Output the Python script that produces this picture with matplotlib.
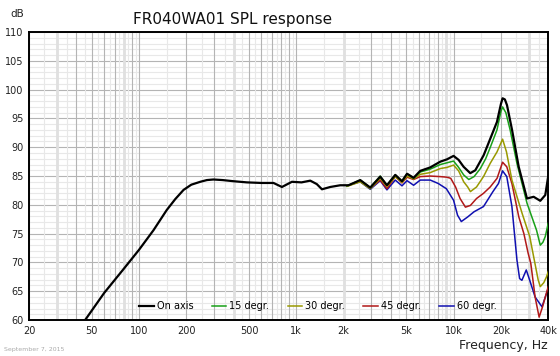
import matplotlib
matplotlib.use('Agg')
import matplotlib.pyplot as plt
import numpy as np

# --- data (frequency in Hz, level in dB)
f_axis = [43, 45.4, 60, 80, 100, 123.6, 150, 170, 192, 215, 245, 270, 297, 340, 399, 485,
          600, 716, 810, 938, 1080, 1227, 1350, 1456, 1644, 1903, 2148, 2550, 2953, 3418,
          3770, 4260, 4700, 5060, 5570, 6140, 7110, 8240, 9080, 10000, 10770, 11590, 12770,
          13750, 15530, 17130, 18880, 20000, 20500, 21200, 21870, 23550, 25960, 29300,
          32300, 35600, 38300, 40000]
db_axis = [59.3, 60.0, 64.7, 68.9, 72.2, 75.6, 79.1, 81.0, 82.6, 83.5, 84.0, 84.3, 84.4, 84.3,
           84.1, 83.9, 83.8, 83.8, 83.1, 84.0, 83.9, 84.2, 83.6, 82.7, 83.1, 83.4, 83.4, 84.3,
           83.0, 84.9, 83.4, 85.2, 84.1, 85.4, 84.7, 85.9, 86.5, 87.5, 87.9, 88.5, 87.8, 86.6,
           85.5, 86.0, 88.6, 91.5, 94.4, 97.5, 98.5, 98.3, 97.3, 93.0, 86.6, 81.1, 81.4, 80.7,
           81.7, 85.0]

f_15 = [2100, 2550, 2953, 3418, 3770, 4260, 4700, 5060, 5570, 6140, 7110, 8240, 9080, 10000,
        10770, 11590, 12500, 13500, 14800, 16000, 17130, 18880, 20000, 20500, 21500, 22900,
        25300, 29300, 33700, 35600, 37000, 38300, 40000]
db_15 = [83.3, 84.3, 83.0, 85.0, 83.4, 85.2, 84.1, 85.4, 84.6, 85.7, 86.2, 87.0, 87.3, 87.6,
         86.5, 85.2, 84.4, 84.9, 86.3, 88.0, 90.0, 93.0, 96.2, 97.0, 96.0, 93.0, 87.2, 80.3,
         75.6, 73.0, 73.5, 74.5, 76.8]

f_30 = [2100, 2550, 2953, 3418, 3770, 4260, 4700, 5060, 5570, 6140, 7110, 8240, 9080, 10000,
        10770, 11600, 12300, 12800, 14000, 15500, 17100, 18900, 20500, 21700, 23500, 27300,
        30500, 32300, 34500, 35600, 37500, 39000, 40000]
db_30 = [83.2, 84.0, 82.8, 84.6, 83.2, 84.9, 83.9, 85.0, 84.5, 85.3, 85.6, 86.3, 86.5, 86.9,
         85.9, 84.0, 83.1, 82.3, 83.1, 84.9, 87.2, 89.2, 91.4, 89.2, 84.3, 78.5, 74.5, 71.0,
         67.0, 65.8, 66.5, 67.5, 68.4]

f_45 = [2100, 2550, 2953, 3418, 3770, 4260, 4700, 5060, 5570, 6140, 7110, 8240, 9080, 9600,
        10300, 11000, 11900, 12800, 14000, 15500, 17100, 18900, 20500, 21800, 23500, 26000,
        28000, 29800, 31000, 33000, 35000, 36800, 40000]
db_45 = [83.3, 84.1, 82.9, 84.3, 82.8, 84.9, 83.8, 84.8, 84.4, 84.9, 85.0, 84.9, 84.8, 84.6,
         83.1, 81.1, 79.6, 79.9, 81.1, 82.0, 83.1, 84.6, 87.4, 86.6, 83.7, 77.9, 75.0, 71.6,
         69.8, 64.0, 60.5, 62.3, 65.8]

f_60 = [2100, 2550, 2953, 3418, 3770, 4260, 4700, 5060, 5570, 6140, 7110, 8000, 9000, 10000,
        10600, 11200, 12300, 13500, 15500, 17800, 19300, 20500, 21800, 23500, 25300, 26300,
        27200, 29000, 30500, 33000, 36500, 40000]
db_60 = [83.3, 84.0, 82.7, 84.2, 82.6, 84.3, 83.3, 84.2, 83.4, 84.3, 84.3, 83.7, 82.8, 80.8,
         78.2, 77.1, 77.9, 78.8, 79.7, 82.3, 83.7, 85.9, 84.9, 79.7, 70.4, 67.2, 66.9, 68.7,
         66.9, 64.0, 62.3, 65.5]

xtick_vals = [20, 50, 100, 200, 500, 1000, 2000, 5000, 10000, 20000, 40000]
xtick_txt = ["20", "50", "100", "200", "500", "1k", "2k", "5k", "10k", "20k", "40k"]
ytick_vals = [60, 65, 70, 75, 80, 85, 90, 95, 100, 105, 110]

fig = plt.figure(figsize=(5.6, 3.56), dpi=100)
ax = fig.add_axes([0.052, 0.101, 0.927, 0.809])

# --- grid: 1 dB / 5 dB horizontal, log-style vertical
for y in range(60, 111):
    ax.axhline(y, color='#e8e8e8' if y % 5 else '#b4b4b4', lw=0.8, zorder=0)
for dec in [10, 100, 1000, 10000]:
    for m in range(1, 10):
        ax.axvline(dec * (m + 0.5), color='#e8e8e8', lw=0.8, zorder=0)
        ax.axvline(dec * m, color='#b4b4b4', lw=0.8, zorder=0)
for fx in [30, 80, 400, 2000, 9000, 30000]:
    ax.axvline(fx, color='#e0e0e0', lw=2.0, zorder=0)

ax.plot(f_60, db_60, color='#1010b0', lw=1.1, label="60 degr.", zorder=2)
ax.plot(f_45, db_45, color='#b01818', lw=1.1, label="45 degr.", zorder=3)
ax.plot(f_30, db_30, color='#999900', lw=1.1, label="30 degr.", zorder=4)
ax.plot(f_15, db_15, color='#18a018', lw=1.1, label="15 degr.", zorder=5)
ax.plot(f_axis, db_axis, color='black', lw=1.6, label="On axis", zorder=6)

ax.set_xscale('log')
ax.set_xlim(20, 40000)
ax.set_ylim(60, 110)
ax.set_xticks(xtick_vals)
ax.set_xticklabels(xtick_txt)
ax.minorticks_off()
ax.set_yticks(ytick_vals)
ax.tick_params(length=0, labelsize=7, colors='#222222', pad=4)
for s in ax.spines.values():
    s.set_linewidth(1.4)

h, l = ax.get_legend_handles_labels()
order = [4, 3, 2, 1, 0]
ax.legend([h[i] for i in order], [l[i] for i in order], loc='lower center', ncol=5,
          frameon=False, fontsize=7, handlelength=1.5, handletextpad=0.3, columnspacing=1.9,
          bbox_to_anchor=(0.556, 0.0))

fig.text(0.237, 0.945, "FR040WA01 SPL response", fontsize=11, color='#111111', va='center')
fig.text(0.018, 0.96, "dB", fontsize=7.5, color='#222222', va='center')
fig.text(0.978, 0.03, "Frequency, Hz", fontsize=9, color='#222222', ha='right', va='center')
fig.text(0.008, 0.018, "September 7, 2015", fontsize=4.5, color='#aaaaaa', va='center')

fig.savefig("out.png", dpi=100)
